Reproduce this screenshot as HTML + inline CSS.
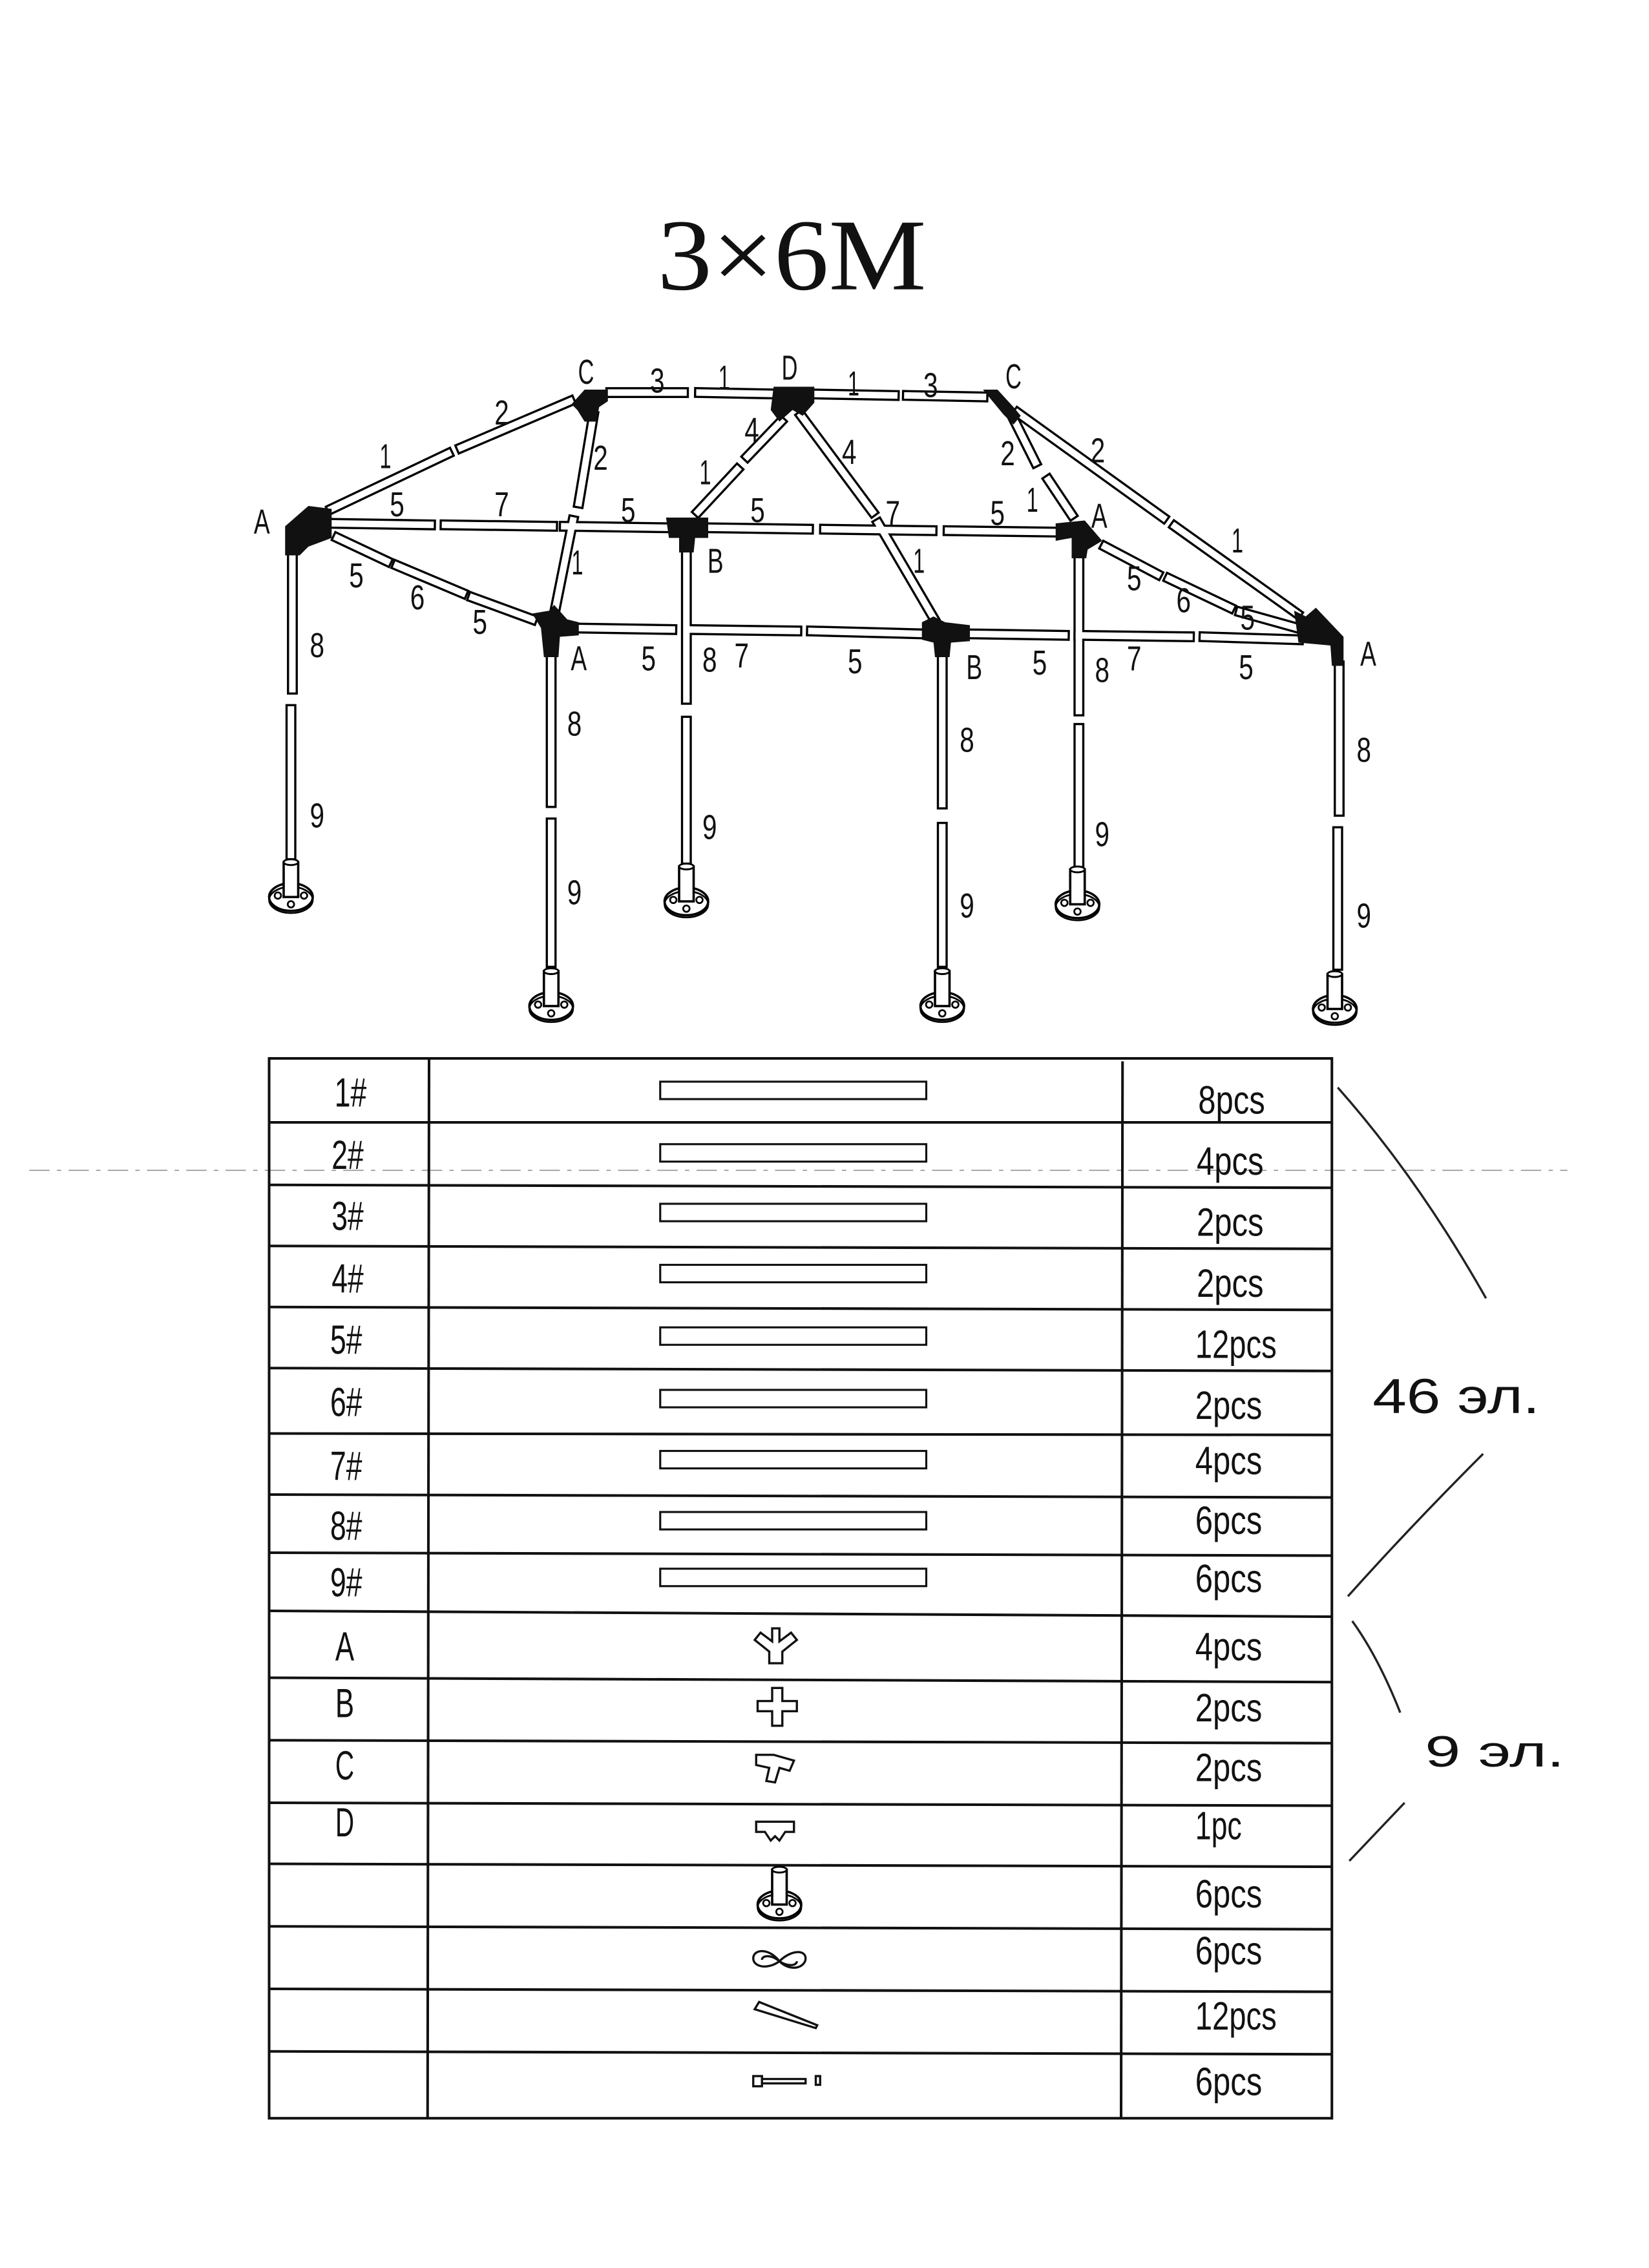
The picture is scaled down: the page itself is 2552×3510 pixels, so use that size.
<!DOCTYPE html>
<html><head><meta charset="utf-8"><style>
html,body{margin:0;padding:0;background:#fff}
svg{display:block}
text{font-family:"Liberation Sans Narrow","Liberation Sans",sans-serif;fill:#111}
</style></head><body>
<svg width="2552" height="3510" viewBox="0 0 1134 1560" xmlns="http://www.w3.org/2000/svg">
<rect width="1134" height="1560" fill="#fff"/>
<!-- title -->
<text x="452" y="199" font-size="70" style="font-family:'Liberation Serif',serif" textLength="185" lengthAdjust="spacingAndGlyphs">3×6M</text>

<defs>
<g id="bars">
<line x1="420" y1="270" x2="470" y2="270"/><line x1="481" y1="270" x2="534" y2="271"/>
<line x1="561" y1="271" x2="615" y2="272"/><line x1="624" y1="272" x2="676" y2="273"/>
<line x1="228" y1="350" x2="308" y2="312"/><line x1="317" y1="308" x2="392" y2="276"/>
<line x1="408" y1="286" x2="398" y2="346"/><line x1="394" y1="358" x2="382" y2="418"/>
<line x1="537" y1="290" x2="514" y2="314"/><line x1="507" y1="323" x2="480" y2="352"/>
<line x1="551" y1="286" x2="600" y2="352"/><line x1="604" y1="360" x2="642" y2="425"/>
<line x1="697" y1="288" x2="712" y2="318"/><line x1="721" y1="330" x2="737" y2="354"/>
<line x1="700" y1="284" x2="800" y2="356"/><line x1="808" y1="362" x2="892" y2="422"/>
<line x1="232" y1="370" x2="266" y2="386"/><line x1="273" y1="389" x2="318" y2="408"/><line x1="325" y1="411" x2="366" y2="426"/>
<line x1="760" y1="376" x2="796" y2="395"/><line x1="804" y1="398" x2="846" y2="418"/><line x1="853" y1="421" x2="896" y2="433"/>
<line x1="230" y1="360" x2="296" y2="361"/><line x1="306" y1="361" x2="380" y2="362"/><line x1="388" y1="362" x2="458" y2="363"/>
<line x1="486" y1="363" x2="556" y2="364"/><line x1="567" y1="364" x2="641" y2="365"/><line x1="652" y1="365" x2="726" y2="366"/>
<line x1="398" y1="432" x2="462" y2="433"/><line x1="474" y1="433" x2="548" y2="434"/><line x1="558" y1="434" x2="634" y2="436"/>
<line x1="667" y1="436" x2="732" y2="437"/><line x1="742" y1="437" x2="818" y2="438"/><line x1="828" y1="438" x2="893" y2="440"/>
<line x1="201" y1="382" x2="201" y2="474"/><line x1="200" y1="488" x2="200" y2="588"/>
<line x1="379" y1="452" x2="379" y2="552"/><line x1="379" y1="566" x2="379" y2="662"/>
<line x1="472" y1="378" x2="472" y2="481"/><line x1="472" y1="496" x2="472" y2="591"/>
<line x1="648" y1="452" x2="648" y2="553"/><line x1="648" y1="569" x2="648" y2="662"/>
<line x1="742" y1="380" x2="742" y2="489"/><line x1="742" y1="501" x2="742" y2="594"/>
<line x1="921" y1="458" x2="921" y2="558"/><line x1="920" y1="572" x2="920" y2="664"/>
</g>
<g id="foot">
<ellipse cx="0" cy="0" rx="15" ry="9.5" fill="#fff" stroke="#000" stroke-width="1.6"/>
<ellipse cx="0" cy="2" rx="15" ry="9" fill="none" stroke="#000" stroke-width="1.2"/>
<rect x="-5" y="-24" width="10" height="24" fill="#fff" stroke="#000" stroke-width="1.6"/>
<ellipse cx="0" cy="-24" rx="5" ry="2" fill="#fff" stroke="#000" stroke-width="1.3"/>
<circle cx="-9" cy="-1" r="2.2" fill="none" stroke="#000" stroke-width="1.2"/>
<circle cx="9" cy="-1" r="2.2" fill="none" stroke="#000" stroke-width="1.2"/>
<circle cx="0" cy="5" r="2.2" fill="none" stroke="#000" stroke-width="1.2"/>
</g>
</defs>
<use href="#bars" stroke="#000" stroke-width="7.5" stroke-linecap="square"/>
<use href="#bars" stroke="#fff" stroke-width="4.5" stroke-linecap="square"/>

<g fill="#111">
<polygon points="196,362 212,348 228,350 228,370 212,376 206,382 196,382"/>
<polygon points="393,278 402,268 418,268 418,276 412,280 410,290 402,290 397,282"/>
<polygon points="532,266 560,266 560,277 552,286 545,282 536,290 530,282"/>
<polygon points="676,268 686,268 697,280 702,286 697,292 690,285"/>
<polygon points="458,356 487,356 487,370 478,370 477,380 467,380 467,370 460,370"/>
<polygon points="726,360 746,358 758,372 748,378 747,384 737,384 737,370 726,372"/>
<polygon points="366,422 378,420 381,416 390,426 398,428 398,437 385,438 384,452 374,452 372,432"/>
<polygon points="634,428 642,424 650,428 667,430 667,441 654,442 653,452 643,452 642,442 634,440"/>
<polygon points="890,420 898,424 905,418 924,438 924,458 916,458 915,444 893,442"/>
</g>

<use href="#foot" x="200" y="617"/>
<use href="#foot" x="379" y="692"/>
<use href="#foot" x="472" y="620"/>
<use href="#foot" x="648" y="692"/>
<use href="#foot" x="741" y="622"/>
<use href="#foot" x="918" y="694"/>

<g font-size="24" text-anchor="middle" lengthAdjust="spacingAndGlyphs">
<text x="403" y="264" textLength="11" lengthAdjust="spacingAndGlyphs">C</text><text x="452" y="270" textLength="10" lengthAdjust="spacingAndGlyphs">3</text><text x="498" y="268" textLength="8" lengthAdjust="spacingAndGlyphs">1</text><text x="543" y="261" textLength="11" lengthAdjust="spacingAndGlyphs">D</text>
<text x="587" y="272" textLength="8" lengthAdjust="spacingAndGlyphs">1</text><text x="640" y="273" textLength="10" lengthAdjust="spacingAndGlyphs">3</text><text x="697" y="267" textLength="11" lengthAdjust="spacingAndGlyphs">C</text>
<text x="345" y="292" textLength="10" lengthAdjust="spacingAndGlyphs">2</text><text x="265" y="322" textLength="8" lengthAdjust="spacingAndGlyphs">1</text><text x="413" y="323" textLength="10" lengthAdjust="spacingAndGlyphs">2</text>
<text x="517" y="304" textLength="10" lengthAdjust="spacingAndGlyphs">4</text><text x="584" y="319" textLength="10" lengthAdjust="spacingAndGlyphs">4</text><text x="485" y="333" textLength="8" lengthAdjust="spacingAndGlyphs">1</text>
<text x="693" y="320" textLength="10" lengthAdjust="spacingAndGlyphs">2</text><text x="755" y="318" textLength="10" lengthAdjust="spacingAndGlyphs">2</text><text x="710" y="352" textLength="8" lengthAdjust="spacingAndGlyphs">1</text><text x="756" y="363" textLength="11" lengthAdjust="spacingAndGlyphs">A</text><text x="851" y="380" textLength="8" lengthAdjust="spacingAndGlyphs">1</text>
<text x="180" y="367" textLength="11" lengthAdjust="spacingAndGlyphs">A</text><text x="273" y="355" textLength="10" lengthAdjust="spacingAndGlyphs">5</text><text x="345" y="355" textLength="10" lengthAdjust="spacingAndGlyphs">7</text><text x="432" y="359" textLength="10" lengthAdjust="spacingAndGlyphs">5</text>
<text x="521" y="359" textLength="10" lengthAdjust="spacingAndGlyphs">5</text><text x="614" y="361" textLength="10" lengthAdjust="spacingAndGlyphs">7</text><text x="686" y="361" textLength="10" lengthAdjust="spacingAndGlyphs">5</text>
<text x="492" y="394" textLength="11" lengthAdjust="spacingAndGlyphs">B</text><text x="397" y="395" textLength="8" lengthAdjust="spacingAndGlyphs">1</text><text x="632" y="394" textLength="8" lengthAdjust="spacingAndGlyphs">1</text>
<text x="245" y="404" textLength="10" lengthAdjust="spacingAndGlyphs">5</text><text x="287" y="419" textLength="10" lengthAdjust="spacingAndGlyphs">6</text><text x="330" y="436" textLength="10" lengthAdjust="spacingAndGlyphs">5</text>
<text x="780" y="406" textLength="10" lengthAdjust="spacingAndGlyphs">5</text><text x="814" y="421" textLength="10" lengthAdjust="spacingAndGlyphs">6</text><text x="858" y="433" textLength="10" lengthAdjust="spacingAndGlyphs">5</text>
<text x="398" y="461" textLength="11" lengthAdjust="spacingAndGlyphs">A</text><text x="446" y="461" textLength="10" lengthAdjust="spacingAndGlyphs">5</text><text x="488" y="462" textLength="10" lengthAdjust="spacingAndGlyphs">8</text><text x="510" y="459" textLength="10" lengthAdjust="spacingAndGlyphs">7</text>
<text x="588" y="463" textLength="10" lengthAdjust="spacingAndGlyphs">5</text><text x="670" y="467" textLength="11" lengthAdjust="spacingAndGlyphs">B</text><text x="715" y="464" textLength="10" lengthAdjust="spacingAndGlyphs">5</text><text x="758" y="469" textLength="10" lengthAdjust="spacingAndGlyphs">8</text>
<text x="780" y="461" textLength="10" lengthAdjust="spacingAndGlyphs">7</text><text x="857" y="467" textLength="10" lengthAdjust="spacingAndGlyphs">5</text><text x="941" y="458" textLength="11" lengthAdjust="spacingAndGlyphs">A</text>
<text x="218" y="452" textLength="10" lengthAdjust="spacingAndGlyphs">8</text><text x="218" y="569" textLength="10" lengthAdjust="spacingAndGlyphs">9</text>
<text x="395" y="506" textLength="10" lengthAdjust="spacingAndGlyphs">8</text><text x="395" y="622" textLength="10" lengthAdjust="spacingAndGlyphs">9</text>
<text x="488" y="577" textLength="10" lengthAdjust="spacingAndGlyphs">9</text>
<text x="665" y="517" textLength="10" lengthAdjust="spacingAndGlyphs">8</text><text x="665" y="631" textLength="10" lengthAdjust="spacingAndGlyphs">9</text>
<text x="758" y="582" textLength="10" lengthAdjust="spacingAndGlyphs">9</text>
<text x="938" y="524" textLength="10" lengthAdjust="spacingAndGlyphs">8</text><text x="938" y="638" textLength="10" lengthAdjust="spacingAndGlyphs">9</text>
</g>

<line x1="20" y1="805" x2="1078" y2="805" stroke="#999" stroke-width="0.8" stroke-dasharray="14 5 3 5"/>

<g stroke="#111" stroke-width="1.8" fill="none">
<rect x="185" y="728" width="731" height="729"/>
<line x1="295" y1="728" x2="294" y2="1457"/>
<line x1="772" y1="730" x2="771" y2="1457"/>
<line x1="185" y1="772" x2="916" y2="772"/>
<line x1="185" y1="815" x2="916" y2="817"/>
<line x1="185" y1="857" x2="916" y2="859"/>
<line x1="185" y1="899" x2="916" y2="901"/>
<line x1="185" y1="941" x2="916" y2="943"/>
<line x1="185" y1="986" x2="916" y2="987"/>
<line x1="185" y1="1028" x2="916" y2="1030"/>
<line x1="185" y1="1068" x2="916" y2="1070"/>
<line x1="185" y1="1108" x2="916" y2="1112"/>
<line x1="185" y1="1154" x2="916" y2="1157"/>
<line x1="185" y1="1197" x2="916" y2="1199"/>
<line x1="185" y1="1240" x2="916" y2="1242"/>
<line x1="185" y1="1282" x2="916" y2="1284"/>
<line x1="185" y1="1325" x2="916" y2="1327"/>
<line x1="185" y1="1368" x2="916" y2="1370"/>
<line x1="185" y1="1411" x2="916" y2="1413"/>
</g>
<g stroke="#111" stroke-width="1.4" fill="#fff">
<rect x="454" y="744" width="183" height="12"/>
<rect x="454" y="787" width="183" height="12"/>
<rect x="454" y="828" width="183" height="12"/>
<rect x="454" y="870" width="183" height="12"/>
<rect x="454" y="913" width="183" height="12"/>
<rect x="454" y="956" width="183" height="12"/>
<rect x="454" y="998" width="183" height="12"/>
<rect x="454" y="1040" width="183" height="12"/>
<rect x="454" y="1079" width="183" height="12"/>
</g>
<g stroke="#111" stroke-width="1.5" fill="#fff">
<path d="M531 1120 h5 v9 l8 -6 l4 5 l-10 8 v8 h-9 v-8 l-10 -8 l4 -5 l8 6 z"/>
<path d="M531 1161 h7 v9 h10 v7 h-10 v10 h-7 v-10 h-10 v-7 h10 z"/>
<path d="M520 1207 h12 l14 4 l-3 7 l-7 -2 l-3 10 l-6 -1 l2 -9 l-9 -2 z"/>
<path d="M520 1253 h26 v7 h-6 l-4 6 l-3 -3 l-3 3 l-4 -6 h-6 z"/>
<path d="M536 1349 c-8 -10 -18 -8 -18 -2 c0 6 10 8 18 2 c8 -8 18 -8 18 -2 c0 6 -10 10 -18 2 z" fill="none"/>
<path d="M536 1349 c-6 -5 -12 -4 -12 -1 M536 1349 c6 4 12 3 12 0" fill="none"/>
<path d="M519 1382 l3 -5 l40 16 l-1 2 z"/>
<rect x="518" y="1428" width="6" height="7"/><rect x="524" y="1430" width="30" height="3"/><rect x="561" y="1428" width="3" height="6"/>
</g>
<use href="#foot" x="536" y="1310"/>

<g font-size="28" text-anchor="middle">
<text x="241" y="761" textLength="22" lengthAdjust="spacingAndGlyphs">1#</text><text x="239" y="804" textLength="22" lengthAdjust="spacingAndGlyphs">2#</text><text x="239" y="846" textLength="22" lengthAdjust="spacingAndGlyphs">3#</text>
<text x="239" y="889" textLength="22" lengthAdjust="spacingAndGlyphs">4#</text><text x="238" y="931" textLength="22" lengthAdjust="spacingAndGlyphs">5#</text><text x="238" y="974" textLength="22" lengthAdjust="spacingAndGlyphs">6#</text>
<text x="238" y="1018" textLength="22" lengthAdjust="spacingAndGlyphs">7#</text><text x="238" y="1059" textLength="22" lengthAdjust="spacingAndGlyphs">8#</text><text x="238" y="1098" textLength="22" lengthAdjust="spacingAndGlyphs">9#</text>
<text x="237" y="1142" textLength="13" lengthAdjust="spacingAndGlyphs">A</text><text x="237" y="1181" textLength="13" lengthAdjust="spacingAndGlyphs">B</text><text x="237" y="1224" textLength="13" lengthAdjust="spacingAndGlyphs">C</text><text x="237" y="1263" textLength="13" lengthAdjust="spacingAndGlyphs">D</text>
</g>
<g font-size="27" text-anchor="start">
<text x="824" y="766" textLength="46" lengthAdjust="spacingAndGlyphs">8pcs</text><text x="823" y="808" textLength="46" lengthAdjust="spacingAndGlyphs">4pcs</text><text x="823" y="850" textLength="46" lengthAdjust="spacingAndGlyphs">2pcs</text>
<text x="823" y="892" textLength="46" lengthAdjust="spacingAndGlyphs">2pcs</text><text x="822" y="934" textLength="56" lengthAdjust="spacingAndGlyphs">12pcs</text><text x="822" y="976" textLength="46" lengthAdjust="spacingAndGlyphs">2pcs</text>
<text x="822" y="1014" textLength="46" lengthAdjust="spacingAndGlyphs">4pcs</text><text x="822" y="1055" textLength="46" lengthAdjust="spacingAndGlyphs">6pcs</text><text x="822" y="1095" textLength="46" lengthAdjust="spacingAndGlyphs">6pcs</text>
<text x="822" y="1142" textLength="46" lengthAdjust="spacingAndGlyphs">4pcs</text><text x="822" y="1184" textLength="46" lengthAdjust="spacingAndGlyphs">2pcs</text><text x="822" y="1225" textLength="46" lengthAdjust="spacingAndGlyphs">2pcs</text>
<text x="822" y="1265" textLength="32" lengthAdjust="spacingAndGlyphs">1pc</text><text x="822" y="1312" textLength="46" lengthAdjust="spacingAndGlyphs">6pcs</text><text x="822" y="1351" textLength="46" lengthAdjust="spacingAndGlyphs">6pcs</text>
<text x="822" y="1396" textLength="56" lengthAdjust="spacingAndGlyphs">12pcs</text><text x="822" y="1441" textLength="46" lengthAdjust="spacingAndGlyphs">6pcs</text>
</g>

<g stroke="#222" stroke-width="1.5" fill="none">
<path d="M920 748 Q975 810 1022 893"/>
<path d="M1020 1000 Q970 1050 927 1098"/>
<path d="M930 1115 Q948 1140 963 1178"/>
<path d="M966 1240 Q945 1262 928 1280"/>
</g>
<text x="944" y="972" font-size="34" style="font-family:'Liberation Sans',sans-serif" fill="#333" textLength="115" lengthAdjust="spacingAndGlyphs">46 эл.</text>
<text x="980" y="1215" font-size="30" style="font-family:'Liberation Sans',sans-serif" fill="#333" textLength="96" lengthAdjust="spacingAndGlyphs">9 эл.</text>
</svg>
</body></html>
